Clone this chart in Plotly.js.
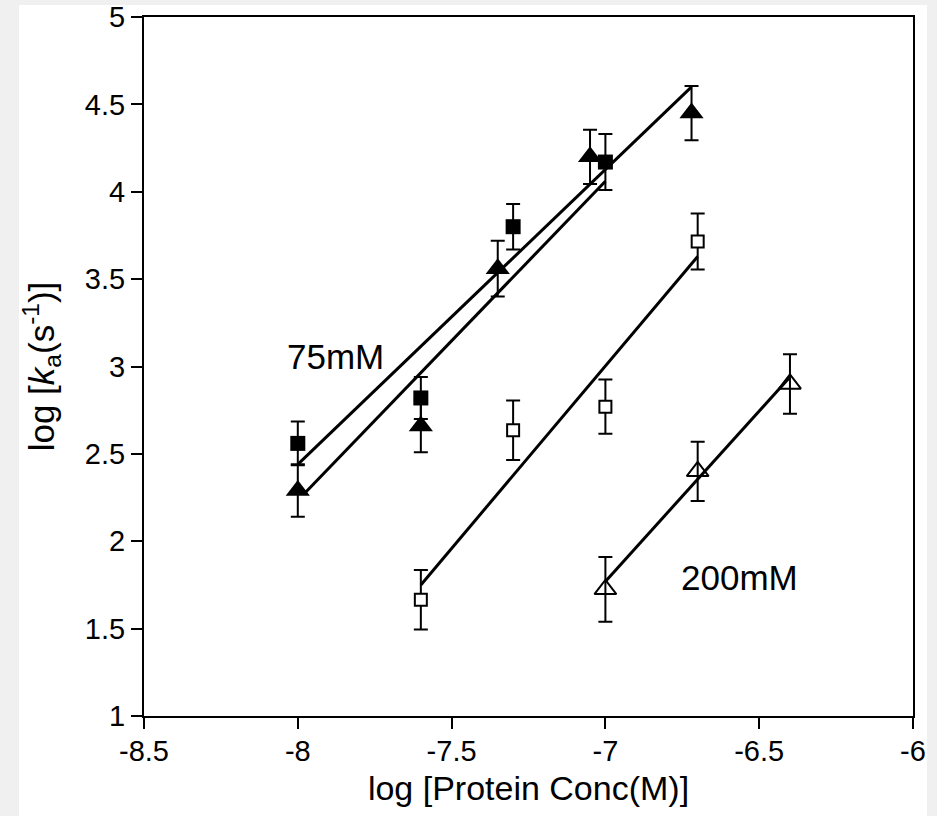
<!DOCTYPE html>
<html>
<head>
<meta charset="utf-8">
<script src="https://cdn.plot.ly/plotly-3.0.1.min.js"></script>
<style>
  html, body { margin: 0; padding: 0; background: #f0f0f0; width: 937px; height: 816px; overflow: hidden; }
  #chart { position: absolute; left: 0; top: 0; width: 937px; height: 816px; }
</style>
</head>
<body>
<div id="chart"></div>
<script>
// ---- data ----
const concSqFilled = [-8.0, -7.6, -7.3, -7.0];
const kaSqFilled   = [2.56, 2.82, 3.80, 4.17];
const errSqFilled  = [0.125, 0.12, 0.13, 0.16];

const concTriFilled = [-8.0, -7.6, -7.35, -7.05, -6.72];
const kaTriFilled   = [2.29, 2.66, 3.56, 4.20, 4.45];
const errTriFilled  = [0.15, 0.15, 0.16, 0.155, 0.155];

const concSqOpen = [-7.6, -7.3, -7.0, -6.7];
const kaSqOpen   = [1.665, 2.635, 2.77, 3.715];
const errSqOpen  = [0.17, 0.17, 0.155, 0.16];

const concTriOpen = [-7.0, -6.7, -6.4];
const kaTriOpen   = [1.725, 2.40, 2.90];
const errTriOpen  = [0.185, 0.17, 0.17];

const fitTriFilledX = [-8.0, -6.72];
const fitTriFilledY = [2.44, 4.60];
const fitSqFilledX  = [-7.98, -7.0];
const fitSqFilledY  = [2.27, 4.06];
const fitSqOpenX    = [-7.6, -6.7];
const fitSqOpenY    = [1.75, 3.63];
const fitTriOpenX   = [-7.0, -6.4];
const fitTriOpenY   = [1.77, 2.94];

const xTickVals = [-8.5, -8, -7.5, -7, -6.5, -6];
const xTickText = ['-8.5', '-8', '-7.5', '-7', '-6.5', '-6'];
const yTickVals = [1, 1.5, 2, 2.5, 3, 3.5, 4, 4.5, 5];
const yTickText = ['1', '1.5', '2', '2.5', '3', '3.5', '4', '4.5', '5'];

const labels = [
  {text: '75mM', x: -7.877, y: 3.06},
  {text: '200mM', x: -6.565, y: 1.79}
];

// ---- traces ----
const errStyle = (arr) => ({type: 'data', array: arr, visible: true, color: '#000', thickness: 2, width: 7});
const lineStyle = {color: '#000', width: 3};

const traces = [
  {x: fitTriFilledX, y: fitTriFilledY, mode: 'lines', line: lineStyle, hoverinfo: 'skip'},
  {x: fitSqFilledX, y: fitSqFilledY, mode: 'lines', line: lineStyle, hoverinfo: 'skip'},
  {x: fitSqOpenX, y: fitSqOpenY, mode: 'lines', line: lineStyle, hoverinfo: 'skip'},
  {x: fitTriOpenX, y: fitTriOpenY, mode: 'lines', line: lineStyle, hoverinfo: 'skip'},
  {x: concSqOpen, y: kaSqOpen, mode: 'markers', error_y: errStyle(errSqOpen),
   marker: {symbol: 'square', size: 12, color: '#fff', line: {color: '#000', width: 2}}},
  {x: concTriOpen, y: kaTriOpen, mode: 'markers', error_y: errStyle(errTriOpen),
   marker: {symbol: 'triangle-up-open', size: 19, color: '#000', line: {color: '#000', width: 2}}},
  {x: concSqFilled, y: kaSqFilled, mode: 'markers', error_y: errStyle(errSqFilled),
   marker: {symbol: 'square', size: 15, color: '#000', line: {width: 0}}},
  {x: concTriFilled, y: kaTriFilled, mode: 'markers', error_y: errStyle(errTriFilled),
   marker: {symbol: 'triangle-up', size: 21, color: '#000', line: {width: 0}}}
];

const font = {family: '"Liberation Sans", Arial, Helvetica, sans-serif', color: '#000'};

// plot area in page pixels: x 144..913, y 17.5..716 ; white sheet: x 19..927, y 5..816
const W = 937, H = 816;
const mL = 144, mR = W - 913, mT = 17, mB = H - 716;
const pw = W - mL - mR, ph = H - mT - mB;

const layout = {
  width: W, height: H,
  margin: {l: mL, r: mR, t: mT, b: mB, autoexpand: false},
  paper_bgcolor: '#f0f0f0', plot_bgcolor: '#ffffff',
  showlegend: false,
  font: Object.assign({size: 29}, font),
  shapes: [{
    type: 'rect', xref: 'paper', yref: 'paper', layer: 'below',
    x0: (19 - mL) / pw, x1: (927 - mL) / pw,
    y0: -(H - (H - mB)) / ph, y1: (H - mB - 5) / ph,
    fillcolor: '#ffffff', line: {width: 0}
  }],
  xaxis: {
    range: [-8.5, -6], tickvals: xTickVals, ticktext: xTickText,
    showgrid: false, zeroline: false,
    showline: true, mirror: true, linecolor: '#000', linewidth: 2,
    ticks: 'outside', ticklen: 11, tickwidth: 2, tickcolor: '#000',
    tickfont: Object.assign({size: 29}, font),
    ticklabelstandoff: -3,
    automargin: false,
    title: {text: 'log [Protein Conc(M)]', font: Object.assign({size: 34}, font), standoff: 10}
  },
  yaxis: {
    range: [1, 5], tickvals: yTickVals, ticktext: yTickText,
    showgrid: false, zeroline: false,
    showline: true, mirror: true, linecolor: '#000', linewidth: 2,
    ticks: 'outside', ticklen: 11, tickwidth: 2, tickcolor: '#000',
    tickfont: Object.assign({size: 29}, font),
    automargin: false,
    title: {text: 'log [<i>k</i><sub>a</sub>(s<sup>-1</sup>)]', font: Object.assign({size: 35}, font), standoff: 20}
  },
  annotations: labels.map(l => ({
    x: l.x, y: l.y, xref: 'x', yref: 'y', text: l.text, showarrow: false,
    font: Object.assign({size: 35}, font)
  }))
};

Plotly.newPlot('chart', traces, layout, {displayModeBar: false, staticPlot: true});
</script>
</body>
</html>
